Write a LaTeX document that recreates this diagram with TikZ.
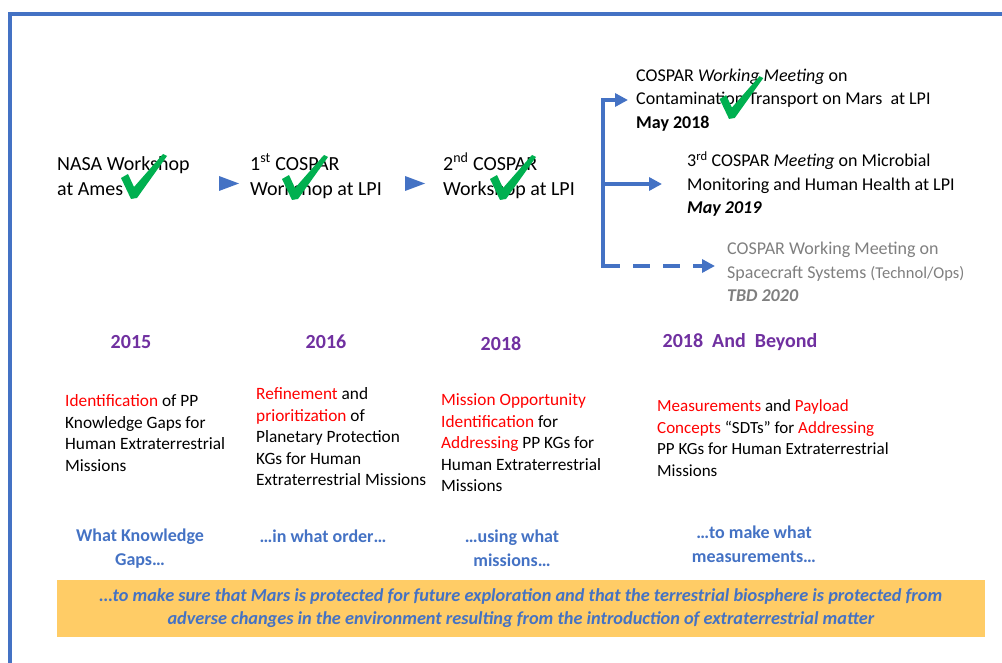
\documentclass[tikz,border=0pt]{standalone}
\usepackage{fontspec}
\setmainfont{Carlito}
\usetikzlibrary{arrows.meta}

\definecolor{ppblue}{HTML}{4472C4}
\definecolor{yearpurple}{HTML}{7030A0}
\definecolor{kgred}{HTML}{FF0000}
\definecolor{okgreen}{HTML}{00B050}
\definecolor{tbdgray}{HTML}{7F7F7F}
\definecolor{bandyellow}{HTML}{FFCC66}

\newcommand{\kg}[1]{\textcolor{kgred}{#1}}

\tikzset{
  event/.style={anchor=west,align=left,inner sep=0pt,font=\fontsize{20}{25}\selectfont},
  meeting/.style={anchor=west,align=left,inner sep=0pt,font=\fontsize{18}{23.5}\selectfont},
  year/.style={inner sep=0pt,text=yearpurple,font=\fontsize{20}{24}\selectfont\bfseries},
  goal/.style={anchor=west,align=left,inner sep=0pt,font=\fontsize{17.3}{21.5}\selectfont},
  question/.style={align=center,inner sep=0pt,text=ppblue,font=\fontsize{18}{24}\selectfont\bfseries},
  band/.style={fill=bandyellow,minimum width=928pt,minimum height=57pt,align=center,
    text=ppblue,font=\fontsize{18.3}{23}\selectfont\bfseries\itshape},
  busline/.style={ppblue,line width=4pt},
  branch/.style={busline,-{Triangle[length=13pt,width=13pt]}},
  okmark/.pic={\fill[okgreen] (-11,-20) -- (-4,-24) -- (2,-11) -- (31,-44) -- (35,-42)
    -- (5,0) -- (-1,1) -- cycle;}
}

\begin{document}
\begin{tikzpicture}[x=1pt,y=-1pt]
 \useasboundingbox (0,0) rectangle (1002,663);
 \draw[ppblue,line width=3.5pt] (10,663) -- (10,14) -- (1002,14);

 % workshops so far
 \node[event] (nasa) at (57,176) {NASA Workshop\\at Ames};
 \node[event] (cos1) at (250,176) {1\textsuperscript{st} COSPAR\\Workshop at LPI};
 \node[event] (cos2) at (443,176) {2\textsuperscript{nd} COSPAR\\Workshop at LPI};
 \fill[ppblue] (219,176) -- (239,183.5) -- (219,191) -- cycle;
 \fill[ppblue] (405,176) -- (425,183.5) -- (405,191) -- cycle;

 % meetings to come
 \node[meeting] (wm) at (636,100) {COSPAR \textit{Working Meeting} on\\Contamination Transport on Mars\ \ at LPI\\\textbf{May 2018}};
 \node[meeting] (mm) at (687,184) {3\textsuperscript{rd} COSPAR \textit{Meeting} on Microbial\\Monitoring and Human Health at LPI\\\textbf{\textit{May 2019}}};
 \node[meeting,text=tbdgray] (tbd) at (727,272) {COSPAR Working Meeting on\\Spacecraft Systems {\fontsize{16.5}{18}\selectfont(Technol/Ops)}\\\textbf{\textit{TBD 2020}}};

 \coordinate (bus) at (603,186);
 \coordinate (tbdin) at ([yshift=6pt]tbd.west);
 \draw[busline,line cap=rect] (bus |- wm.west) -- (bus |- tbdin);
 \draw[branch,shorten >=8pt] (bus |- wm.west) -- (wm.west);
 \draw[branch,shorten >=25pt] (bus |- mm.west) -- (mm.west);
 \draw[branch,shorten >=12pt,dash pattern=on 17pt off 13pt] (bus |- tbdin) -- (tbdin);

 \pic at (132,198) {okmark};
 \pic at (293,199) {okmark};
 \pic at (501,199) {okmark};
 \pic[scale=0.95] at (730,118) {okmark};

 % years
 \node[year] (y1) at (131,342) {2015};
 \node[year] (y2) at (326,342) {2016};
 \node[year] (y3) at (501,344) {2018};
 \node[year] (y4) at (740,342) {2018\ \ And\ \ Beyond};

 % what each step does
 \node[goal] (g1) at (65,433) {\kg{Identification} of PP\\Knowledge Gaps for\\Human Extraterrestrial\\Missions};
 \node[goal] (g2) at (256,437) {\kg{Refinement} and\\\kg{prioritization} of\\Planetary Protection\\KGs for Human\\Extraterrestrial Missions};
 \node[goal] (g3) at (441,443) {\kg{Mission Opportunity}\\\kg{Identification} for\\\kg{Addressing} PP KGs for\\Human Extraterrestrial\\Missions};
 \node[goal,font=\fontsize{17}{21.5}\selectfont] (g4) at (657,438) {\kg{Measurements} and \kg{Payload}\\\kg{Concepts} “SDTs” for \kg{Addressing}\\PP KGs for Human Extraterrestrial\\Missions};

 \node[question] (q1) at (140,549) {What Knowledge\\Gaps…};
 \node[question] (q2) at (323,536) {…in what order…};
 \node[question] (q3) at (512,548) {…using what\\missions…};
 \node[question] (q4) at (754,544) {…to make what\\measurements…};

 \node[band] (aim) at (521,608) {…to make sure that Mars is protected for future exploration and that the terrestrial biosphere is protected from\\adverse changes in the environment resulting from the introduction of extraterrestrial matter};
\end{tikzpicture}
\end{document}
